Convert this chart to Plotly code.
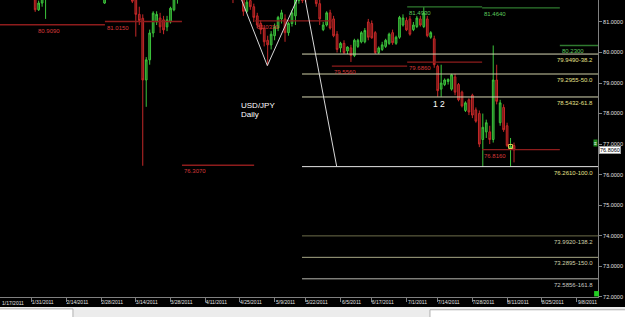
import plotly.graph_objects as go

# ---------------- data ----------------
open_ = [82.90,82.55,82.85,82.75,82.50,82.70,83.10,82.60,82.20,82.00,
         82.10,81.95,81.40,81.62,81.85,82.00,82.20,82.40,82.80,83.20,
         83.40,83.30,83.00,83.20,83.50,83.20,82.80,82.50,82.10,81.95,
         82.05,81.62,81.88,82.20,82.50,82.80,83.00,82.90,82.60,82.40,
         81.90,81.25,81.12,79.10,79.76,80.64,81.00,81.13,81.07,80.84,
         81.00,81.40,81.75,82.10,82.40,82.80,83.20,83.90,84.50,85.30,
         84.80,84.20,84.30,83.60,83.20,82.70,82.80,82.30,82.20,81.90,
         82.10,82.00,81.35,81.70,81.50,81.20,80.95,80.80,80.40,80.25,
         80.55,80.80,81.10,81.10,80.65,80.95,81.20,81.70,82.00,81.90,
         81.80,81.90,81.90,81.60,80.75,80.90,81.30,81.10,80.60,80.15,
         80.30,80.05,80.15,79.90,80.20,80.35,80.35,81.00,80.95,80.65,
         80.00,80.10,80.20,80.30,80.65,80.30,80.50,80.90,81.05,81.10,
         80.75,80.85,81.10,80.85,81.10,80.50,80.45,79.55,78.80,78.95,
         79.05,78.80,79.20,78.95,78.70,78.10,78.45,78.60,78.12,78.00,
         77.15,77.40,77.40,77.15,79.10,77.70,78.20,77.60,76.82,76.95]
high = [83.05,82.95,83.00,82.95,82.80,83.20,83.15,82.85,82.35,82.30,
        82.20,82.05,81.70,81.95,82.10,82.30,82.50,82.90,83.30,83.60,
        83.70,83.50,83.40,83.60,83.70,83.30,83.00,82.60,82.30,82.20,
        82.20,81.95,82.30,82.60,82.90,83.20,83.30,83.00,82.80,82.50,
        82.00,81.50,81.25,79.85,80.75,81.35,81.35,81.30,81.20,81.20,
        81.50,81.90,82.20,82.50,82.90,83.30,84.00,84.60,85.50,85.40,
        85.00,84.50,84.40,83.80,83.40,83.00,82.90,82.60,82.40,82.30,
        82.20,82.10,81.75,81.90,81.60,81.30,81.05,80.90,80.55,80.70,
        80.95,81.20,81.40,81.25,81.00,81.40,81.80,82.00,82.20,82.00,
        82.00,82.10,82.10,81.75,81.00,81.35,81.40,81.20,80.70,80.35,
        80.40,80.20,80.25,80.45,80.45,80.70,80.80,81.10,81.05,80.70,
        80.20,80.35,80.45,80.65,80.75,80.55,81.20,81.25,81.15,81.20,
        81.00,81.20,81.20,81.49,81.20,80.70,80.55,79.60,79.60,79.15,
        79.15,79.30,79.30,79.00,78.75,78.40,78.50,78.65,78.20,78.10,
        78.00,77.80,77.60,80.23,79.60,78.45,78.30,77.70,77.20,77.05]
low = [82.40,82.50,82.60,82.45,82.20,82.60,82.50,82.10,81.85,81.80,
       81.78,81.33,81.36,81.50,81.10,81.85,82.05,82.30,82.70,83.00,
       83.20,82.90,82.80,83.10,83.10,82.70,82.40,82.00,81.85,81.80,
       81.78,81.59,81.80,82.10,82.40,82.70,82.80,82.50,82.30,81.62,
       80.52,80.90,76.29,78.22,79.60,80.50,80.90,80.64,80.60,80.70,
       80.95,81.35,81.60,81.95,82.30,82.70,83.10,83.80,84.40,84.70,
       84.10,83.90,83.50,83.10,82.60,82.40,82.20,81.90,81.62,81.75,
       81.76,81.20,81.30,81.40,81.00,80.80,80.60,80.20,79.57,80.10,
       80.40,80.70,80.95,80.35,80.55,80.85,80.90,81.60,81.62,81.65,
       81.75,81.78,81.50,80.90,80.70,80.85,80.75,80.50,80.00,80.00,
       79.95,79.95,79.69,79.85,80.15,80.30,80.30,80.40,80.45,79.95,
       79.95,80.05,80.15,80.25,80.25,80.25,80.45,80.85,80.70,80.55,
       80.70,80.80,80.85,80.80,80.50,80.45,79.50,78.55,78.55,78.90,
       78.95,78.75,78.60,78.40,78.20,78.05,77.95,77.85,77.70,76.90,
       76.26,77.20,77.00,77.05,78.30,77.60,77.40,76.90,76.27,76.40]
close = [82.55,82.85,82.75,82.50,82.70,83.10,82.60,82.20,82.00,82.10,
         81.95,81.40,81.62,81.88,82.00,82.20,82.40,82.80,83.20,83.40,
         83.30,83.00,83.20,83.50,83.20,82.80,82.50,82.10,81.95,82.05,
         81.90,81.88,82.20,82.50,82.80,83.00,82.90,82.60,82.40,81.68,
         81.25,81.05,79.10,79.76,80.64,81.29,81.25,80.84,80.74,81.07,
         81.45,81.80,82.10,82.40,82.80,83.20,83.90,84.50,85.30,84.80,
         84.20,84.30,83.60,83.20,82.70,82.80,82.30,82.50,81.75,82.10,
         81.95,81.35,81.65,81.50,81.15,80.90,80.75,80.35,80.25,80.60,
         80.85,81.15,81.30,80.65,80.95,81.30,81.75,81.90,81.70,81.75,
         81.90,82.00,81.60,81.10,80.90,81.30,80.80,80.55,80.10,80.30,
         80.00,80.18,79.90,80.40,80.40,80.65,80.72,80.50,80.48,80.00,
         80.15,80.25,80.40,80.60,80.32,80.50,81.15,81.13,80.74,80.60,
         80.90,81.13,80.90,81.30,80.55,80.65,79.60,78.75,79.00,79.10,
         79.12,79.27,78.70,78.45,78.25,78.35,78.05,77.95,77.75,77.00,
         77.55,77.70,77.15,79.10,78.40,78.35,77.47,76.95,76.92,76.81]
bars = list(range(len(close)))

tick_bars = [0, 10, 20, 30, 40, 50, 60, 70, 80, 89, 99, 108, 118, 127, 137, 147, 157, 167]
tick_dates = ["1/17/2011", "1/31/2011", "2/14/2011", "2/28/2011", "3/14/2011", "3/28/2011",
              "4/11/2011", "4/25/2011", "5/9/2011", "5/22/2011", "6/5/2011", "6/17/2011",
              "7/1/2011", "7/14/2011", "7/28/2011", "8/11/2011", "8/25/2011", "9/8/2011"]
price_ticks = [72, 73, 74, 75, 76, 77, 78, 79, 80, 81]
price_labels = ["72.0000", "73.0000", "74.0000", "75.0000", "76.0000",
                "77.0000", "78.0000", "79.0000", "80.0000", "81.0000"]

# monthly pivot levels: start bar, end bar, level, label anchor bar
pivot_low_start = [-10, 31.1, 53.3, 74.4, 96.5, 118.2, 139.8]
pivot_low_end = [31.1, 53.3, 74.1, 96.8, 118.2, 139.8, 162.2]
pivot_low_val = [80.909, 81.015, 76.307, 81.033, 79.556, 79.686, 76.816]
pivot_low_lbl = ["80.9090", "81.0150", "76.3070", "81.0330", "79.5560", "79.6860", "76.8160"]
pivot_low_lblx = [11.2, 31.1, 53.3, 74.4, 96.5, 118.2, 139.8]

pivot_high_start = [118.2, 139.8, 162.2]
pivot_high_end = [139.8, 162.2, 176]
pivot_high_val = [81.493, 81.464, 80.230]
pivot_high_lbl = ["81.4930", "81.4640", "80.2300"]

# fibonacci levels
fib_start = 87.9
fib_vals = [79.949, 79.2955, 78.5432, 76.261, 73.992, 73.2895, 72.5856]
fib_lbls = ["79.9490-38.2", "79.2955-50.0", "78.5432-61.8", "76.2610-100.0",
            "73.9920-138.2", "73.2895-150.0", "72.5856-161.8"]
fib_colors = ["#d8d8b4", "#cfcfa6", "#d8d8b4", "#e6e6e6", "#6e6e4a", "#a8a886", "#b8b8b0"]
fib_txt_colors = ["#e6e08a", "#e6e08a", "#e6e08a", "#e6e08a", "#d0d0a8", "#d0d0a8", "#c8c8c0"]

# white trend lines (bar, price)
vee_x = [69.0, 77.9, 87.5]
vee_y = [82.15, 79.57, 82.00]
measure_x = [88.0, 97.9]
measure_y = [82.229, 76.261]

last_price = 76.806
x_range = [0.86, 173.2]

# ---------------- figure ----------------
fig = go.Figure()
fig.add_trace(go.Candlestick(
    x=bars, open=open_, high=high, low=low, close=close,
    increasing=dict(line=dict(color="#3cc43c", width=1), fillcolor="#1f6a1f"),
    decreasing=dict(line=dict(color="#c42828", width=1), fillcolor="#6a1414"),
    whiskerwidth=0, hoverinfo="skip", showlegend=False))

for s, e, v in zip(pivot_low_start, pivot_low_end, pivot_low_val):
    fig.add_trace(go.Scatter(x=[s, e], y=[v, v], mode="lines",
                             line=dict(color="#8e1c1c", width=1.3),
                             hoverinfo="skip", showlegend=False))
for s, e, v in zip(pivot_high_start, pivot_high_end, pivot_high_val):
    fig.add_trace(go.Scatter(x=[s, e], y=[v, v], mode="lines",
                             line=dict(color="#2f7a2f", width=1.3),
                             hoverinfo="skip", showlegend=False))
for v, c in zip(fib_vals, fib_colors):
    fig.add_trace(go.Scatter(x=[fib_start, 180], y=[v, v], mode="lines",
                             line=dict(color=c, width=1),
                             hoverinfo="skip", showlegend=False))
fig.add_trace(go.Scatter(x=vee_x, y=vee_y, mode="lines",
                         line=dict(color="#d8d8d8", width=1),
                         hoverinfo="skip", showlegend=False))
fig.add_trace(go.Scatter(x=measure_x, y=measure_y, mode="lines",
                         line=dict(color="#d8d8d8", width=1),
                         hoverinfo="skip", showlegend=False))
fig.add_trace(go.Scatter(x=[bars[-2]], y=[close[-2]], mode="markers",
                         marker=dict(symbol="square-open", size=4, color="#e0d050", line=dict(width=1)),
                         hoverinfo="skip", showlegend=False))

font_small = "Liberation Sans, Arial, sans-serif"
ann = []
for xl, v, t in zip(pivot_low_lblx, pivot_low_val, pivot_low_lbl):
    ann.append(dict(x=xl, y=v, xref="x", yref="y", text=t, showarrow=False,
                    xanchor="left", yanchor="top", yshift=-1,
                    font=dict(family=font_small, size=6, color="#d83a3a")))
for s, v, t in zip(pivot_high_start, pivot_high_val, pivot_high_lbl):
    ann.append(dict(x=s, y=v, xref="x", yref="y", text=t, showarrow=False,
                    xanchor="left", yanchor="top", yshift=-1,
                    font=dict(family=font_small, size=6, color="#5cc85c")))
for v, t, c in zip(fib_vals, fib_lbls, fib_txt_colors):
    ann.append(dict(x=0.995, y=v, xref="paper", yref="y", text=t, showarrow=False,
                    xanchor="right", yanchor="top", yshift=-1,
                    font=dict(family=font_small, size=6, color=c)))
ann.append(dict(x=69.7, y=78.28, xref="x", yref="y", text="USD/JPY", showarrow=False,
                xanchor="left", yanchor="middle",
                font=dict(family=font_small, size=8, color="#ffffff")))
ann.append(dict(x=69.7, y=77.98, xref="x", yref="y", text="Daily", showarrow=False,
                xanchor="left", yanchor="middle",
                font=dict(family=font_small, size=8, color="#ffffff")))
ann.append(dict(x=127.3, y=78.31, xref="x", yref="y", text="1 2", showarrow=False,
                xanchor="center", yanchor="middle",
                font=dict(family=font_small, size=8.5, color="#ffffff")))
ann.append(dict(x=1, y=last_price, xref="paper", yref="y", text="76.8060", showarrow=False,
                xanchor="left", yanchor="middle", xshift=1, bgcolor="#ffffff",
                bordercolor="#a0a0a0", borderwidth=1, borderpad=0,
                font=dict(family=font_small, size=5.5, color="#000000")))
ann.append(dict(x=1, y=77.03, xref="paper", yref="y", text="≡", showarrow=False,
                xanchor="right", yanchor="middle", bgcolor="#1f8a1f", borderpad=0,
                font=dict(family=font_small, size=5, color="#ffffff")))
# first date label: its tick lies just left of the visible range, keep label at the left edge
ann.append(dict(x=0, y=0, xref="paper", yref="paper", text=tick_dates[0],
                showarrow=False, xanchor="left", yanchor="top", xshift=0, yshift=-1,
                font=dict(family=font_small, size=5, color="#e0e0e0")))

shapes = [
    dict(type="rect", xref="paper", yref="paper", x0=-0.01, x1=1.05, y0=-0.0337, y1=-0.08,
         fillcolor="#ececec", line=dict(width=0), layer="above"),
    dict(type="rect", xref="paper", yref="paper", x0=-0.01, x1=0.122, y0=-0.040, y1=-0.08,
         fillcolor="#ffffff", line=dict(width=1, color="#b0b0b0"), layer="above"),
    dict(type="rect", xref="paper", yref="paper", x0=0.719, x1=1.05, y0=-0.043, y1=-0.08,
         fillcolor="#ffffff", line=dict(width=1, color="#b0b0b0"), layer="above"),
    dict(type="rect", xref="paper", yref="paper", x0=0.9935, x1=1.0015, y0=0.002, y1=0.02,
         fillcolor="#22cc22", line=dict(width=0), layer="above"),
]

fig.update_layout(
    width=625, height=317, autosize=False,
    margin=dict(l=0, r=27, t=0, b=20, pad=0),
    paper_bgcolor="#000000", plot_bgcolor="#000000",
    showlegend=False, annotations=ann, shapes=shapes,
    xaxis=dict(range=x_range, tickmode="array", tickvals=tick_bars, ticktext=tick_dates,
               ticks="outside", ticklen=4, tickcolor="#808080", showline=True,
               linecolor="#808080", linewidth=1, showgrid=False, zeroline=False,
               tickfont=dict(family=font_small, size=5, color="#e0e0e0"),
               ticklabelshift=11, ticklabelstandoff=-4,
               rangeslider=dict(visible=False), fixedrange=True),
    yaxis=dict(range=[71.99, 81.72], side="right", tickmode="array", tickvals=price_ticks,
               ticktext=price_labels, ticks="outside", ticklen=3, tickcolor="#808080",
               showline=True, linecolor="#808080", linewidth=1, showgrid=False,
               zeroline=False, tickfont=dict(family=font_small, size=5.5, color="#e0e0e0"),
               fixedrange=True),
)

fig.write_html("out.html")
